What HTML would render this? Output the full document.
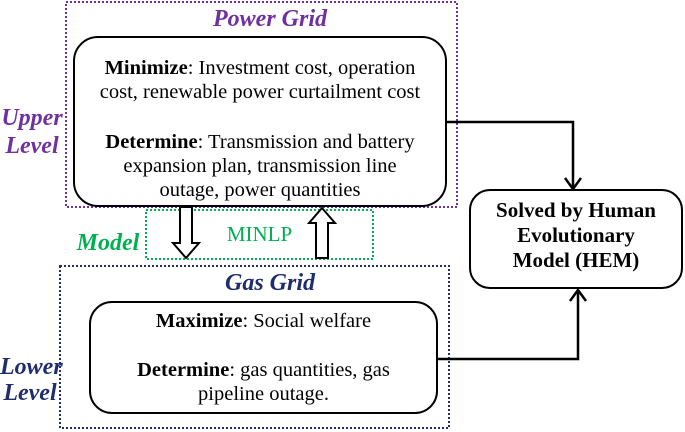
<!DOCTYPE html>
<html><head><style>
body{margin:0;width:685px;height:432px;background:#fff;position:relative;overflow:hidden;font-family:"Liberation Serif",serif}
.a{position:absolute}
.t{position:absolute;text-align:center;font-size:20.5px;line-height:24px;color:#000;white-space:nowrap}
.lab{position:absolute;font-weight:bold;font-style:italic;font-size:24px;line-height:28px;text-align:center;white-space:nowrap}
</style></head><body>
<svg class="a" style="left:0;top:0" width="685" height="432">
<rect x="66" y="2" width="391" height="205" fill="none" stroke="#7030a0" stroke-width="2" stroke-dasharray="2,2"/>
<rect x="146" y="210" width="227" height="49" fill="none" stroke="#00b050" stroke-width="2" stroke-dasharray="2,2"/>
<rect x="60" y="266" width="389" height="162" fill="none" stroke="#1f2d6e" stroke-width="2" stroke-dasharray="2,2"/>
<rect x="74" y="37" width="372" height="169" rx="24" fill="#fff" stroke="#000" stroke-width="2"/>
<rect x="90" y="302" width="347" height="111" rx="22" fill="#fff" stroke="#000" stroke-width="2"/>
<rect x="470" y="190" width="212" height="98" rx="20" fill="#fff" stroke="#000" stroke-width="2"/>
<polyline points="446,122 573,122 573,188" fill="none" stroke="#000" stroke-width="2.5"/>
<polyline points="565,178 573,189 581,178" fill="none" stroke="#000" stroke-width="2.5"/>
<polyline points="437,359 578,359 578,291" fill="none" stroke="#000" stroke-width="2.5"/>
<polyline points="570,301 578,290 586,301" fill="none" stroke="#000" stroke-width="2.5"/>
<polygon points="180,207 192,207 192,243 199,243 186,258 173,243 180,243" fill="#fff" stroke="#000" stroke-width="2"/>
<polygon points="316,258 328,258 328,223 335,223 322,208 309,223 316,223" fill="#fff" stroke="#000" stroke-width="2"/>
</svg>
<div class="lab" style="left:170px;top:5px;width:200px;color:#7030a0">Power Grid</div>
<div class="lab" style="left:0;top:104px;width:64px;color:#7030a0">Upper<br>Level</div>
<div class="lab" style="left:70px;top:229px;width:76px;color:#00b050">Model</div>
<div class="t" style="left:146px;top:222px;width:227px;color:#00b050;font-size:21px">MINLP</div>
<div class="lab" style="left:170px;top:269px;width:200px;color:#1f2d6e">Gas Grid</div>
<div class="lab" style="left:0;top:354px;width:60px;color:#1f2d6e;line-height:26px">Lower<br>Level</div>
<div class="t" style="left:74px;top:56px;width:372px">
<b>Minimize</b>: Investment cost, operation<br>cost, renewable power curtailment cost<br><div style="height:26px"></div><b>Determine</b>: Transmission and battery<br>expansion plan, transmission line<br>outage, power quantities</div>
<div class="t" style="left:90px;top:309px;width:347px"><b>Maximize</b>: Social welfare<br><div style="height:25px"></div><b>Determine</b>: gas quantities, gas<br>pipeline outage.</div>
<div class="t" style="left:470px;top:198px;width:212px;font-weight:bold;font-size:21px;line-height:25px">Solved by Human<br>Evolutionary<br>Model (HEM)</div>
</body></html>
